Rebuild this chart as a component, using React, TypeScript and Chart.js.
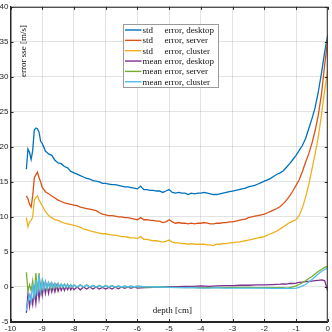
import React, { useEffect, useRef } from "react";
import { Chart, registerables } from "chart.js";

Chart.register(...registerables);

const stdDepth = [
  -9.5, -9.45, -9.4, -9.35, -9.3, -9.25, -9.2, -9.15, -9.1, -9.05, -9.0,
  -8.9, -8.8, -8.7, -8.6, -8.5, -8.4, -8.3, -8.2, -8.1, -8.0,
  -7.9, -7.8, -7.7, -7.6, -7.5, -7.4, -7.3, -7.2, -7.1, -7.0,
  -6.9, -6.8, -6.7, -6.6, -6.5, -6.4, -6.3, -6.2, -6.1, -6.0,
  -5.9, -5.8, -5.7, -5.6, -5.5, -5.4, -5.3, -5.2, -5.1, -5.0,
  -4.9, -4.8, -4.7, -4.6, -4.5, -4.4, -4.3, -4.2, -4.1, -4.0,
  -3.9, -3.8, -3.7, -3.6, -3.5, -3.4, -3.3, -3.2, -3.1, -3.0,
  -2.9, -2.8, -2.7, -2.6, -2.5, -2.4, -2.3, -2.2, -2.1, -2.0,
  -1.9, -1.8, -1.7, -1.6, -1.5, -1.4, -1.3, -1.2, -1.1, -1.0,
  -0.9, -0.8, -0.7, -0.6, -0.5, -0.4, -0.3, -0.2, -0.1, 0,
];

const stdDesktop = [
  16.8, 19.7, 19.2, 18.2, 19.5, 22.4, 22.7, 22.6, 22.1, 20.8, 20.5,
  19.4, 19.0, 18.8, 18.1, 17.7, 17.6, 17.2, 17.0, 16.5, 16.3,
  16.1, 15.9, 15.7, 15.5, 15.4, 15.2, 15.1, 15.0, 14.8, 14.8,
  14.7, 14.6, 14.6, 14.5, 14.4, 14.3, 14.3, 14.2, 14.1, 14.0,
  14.4, 13.9, 13.9, 13.8, 13.8, 13.7, 13.7, 13.5, 13.7, 13.9,
  13.5, 13.4, 13.5, 13.4, 13.4, 13.2, 13.4, 13.3, 13.4, 13.4,
  13.5, 13.4, 13.3, 13.2, 13.2, 13.3, 13.4, 13.5, 13.6, 13.7,
  13.8, 13.9, 14.0, 14.1, 14.3, 14.4, 14.5, 14.7, 14.9, 15.1,
  15.3, 15.5, 15.8, 16.1, 16.3, 16.6, 17.1, 17.6, 18.2, 18.8,
  19.5, 20.2, 21.2, 22.6, 24.0, 25.6, 27.8, 30.5, 33.5, 36.0,
];

const stdServer = [
  13.0, 12.6, 11.8, 11.4, 13.0, 15.6, 16.0, 16.4, 15.6, 15.0, 14.2,
  13.6, 13.3, 13.0, 12.7, 12.4, 12.2, 12.0, 11.9, 11.8, 11.7,
  11.6, 11.4, 11.3, 11.2, 11.1, 11.0, 10.9, 10.6, 10.4, 10.3,
  10.2, 10.2, 10.1, 10.0, 10.0, 9.9, 9.9, 9.8, 9.7, 9.6,
  9.9, 9.6, 9.6, 9.5, 9.5, 9.4, 9.4, 9.2, 9.3, 9.6,
  9.3, 9.1, 9.2, 9.1, 9.1, 9.0, 9.1, 9.0, 9.1, 9.1,
  9.2, 9.1, 9.0, 9.0, 9.1, 9.1, 9.2, 9.2, 9.3, 9.3,
  9.4, 9.5, 9.6, 9.7, 9.9, 10.0, 10.1, 10.2, 10.3, 10.4,
  10.6, 10.8, 11.0, 11.2, 11.5, 11.9, 12.4, 13.0, 13.7, 14.5,
  15.3, 16.5, 17.8, 19.0, 20.5, 22.3, 24.5, 27.5, 31.6, 35.4,
];

const stdCluster = [
  9.9, 8.6, 9.3, 9.5, 10.0, 12.4, 12.8, 13.0, 12.4, 12.0, 11.6,
  10.8, 10.2, 9.9, 9.6, 9.5, 9.3, 9.1, 9.0, 8.9, 8.8,
  8.7, 8.5, 8.3, 8.2, 8.0, 7.9, 7.8, 7.7, 7.6, 7.6,
  7.5, 7.4, 7.4, 7.3, 7.2, 7.2, 7.1, 7.0, 7.0, 6.9,
  7.2, 6.8, 6.8, 6.7, 6.6, 6.6, 6.5, 6.4, 6.5, 6.7,
  6.4, 6.3, 6.3, 6.2, 6.2, 6.1, 6.2, 6.1, 6.1, 6.1,
  6.1, 6.0, 6.0, 5.9, 6.1, 6.1, 6.2, 6.2, 6.3, 6.3,
  6.4, 6.4, 6.5, 6.6, 6.7, 6.8, 6.9, 7.0, 7.1, 7.2,
  7.4, 7.6, 7.8, 8.0, 8.3, 8.6, 8.9, 9.2, 9.4, 9.6,
  10.2, 11.3, 12.8, 14.6, 16.8, 19.0, 21.4, 24.5, 28.0, 31.0,
];

const meanDepth = [
  -9.5, -9.45, -9.4, -9.35, -9.3, -9.25, -9.2, -9.15, -9.1, -9.05,
  -9.0, -8.95, -8.9, -8.85, -8.8, -8.75, -8.7, -8.65, -8.6, -8.55,
  -8.5, -8.45, -8.4, -8.35, -8.3, -8.25, -8.2, -8.15, -8.1, -8.05, -8.0,
  -7.9, -7.8, -7.7, -7.6, -7.5, -7.4, -7.3, -7.2, -7.1, -7.0,
  -6.9, -6.8, -6.7, -6.6, -6.5, -6.4, -6.3, -6.2, -6.1, -6.0,
  -5.75, -5.5, -5.25, -5.0, -4.75, -4.5, -4.25, -4.0, -3.75, -3.5,
  -3.25, -3.0, -2.75, -2.5, -2.25, -2.0, -1.75, -1.5,
  -1.4, -1.3, -1.2, -1.1, -1.0, -0.9, -0.8, -0.7, -0.6, -0.5,
  -0.4, -0.3, -0.2, -0.1, 0,
];

const meanDesktop = [
  -3.7, -1.0, -2.8, -1.2, -2.5, -0.4, -2.3, 0.3, -1.7, 0.2,
  -1.2, 0.4, -0.9, 0.3, -0.9, 0.3, -0.7, 0.2, -0.7, 0.2,
  -0.6, 0.1, -0.5, 0.1, -0.5, 0.1, -0.4, 0.1, -0.4, 0.0, -0.4,
  0.0, -0.4, 0.0, -0.3, 0.0, -0.3, 0.0, -0.3, -0.05, -0.3,
  -0.05, -0.3, 0.0, -0.25, 0.0, -0.2, 0.0, -0.2, 0.0, -0.15,
  -0.1, -0.05, 0.0, 0.05, 0.05, 0.1, 0.1, 0.15, 0.1, 0.15,
  0.2, 0.2, 0.25, 0.25, 0.3, 0.3, 0.35, 0.4,
  0.45, 0.4, 0.5, 0.5, 0.55, 0.65, 0.7, 0.75, 0.8, 0.85,
  0.9, 0.95, 1.0, 0.9, -0.6,
];

const meanServer = [
  2.1, -0.6, 0.3, -0.5, 0.9, -1.4, 2.0, -0.8, 2.0, -0.7,
  0.9, -0.3, 0.7, -0.3, 0.6, -0.2, 0.6, -0.2, 0.5, -0.1,
  0.5, -0.1, 0.4, 0.0, 0.4, 0.0, 0.4, 0.0, 0.3, 0.0, 0.3,
  0.0, 0.3, 0.0, 0.3, 0.0, 0.2, 0.0, 0.2, 0.0, 0.2,
  0.0, 0.2, 0.0, 0.1, 0.0, 0.1, 0.0, 0.1, 0.0, 0.1,
  0.0, 0.05, 0.0, -0.05, -0.05, -0.1, -0.05, -0.1, -0.1, -0.05,
  -0.1, -0.05, -0.05, -0.05, -0.1, -0.1, -0.1, -0.1,
  -0.1, -0.15, -0.1, 0.0, 0.15, 0.35, 0.6, 0.9, 1.2, 1.5,
  1.85, 2.2, 2.5, 2.8, 2.95,
];

const meanCluster = [
  -3.4, -2.0, -1.1, -2.1, 0.4, -1.8, 1.0, -1.2, 1.7, -0.6,
  0.9, -0.3, 0.8, -0.2, 0.6, -0.1, 0.6, -0.1, 0.5, 0.0,
  0.5, 0.0, 0.4, 0.0, 0.4, 0.0, 0.3, 0.0, 0.3, 0.0, 0.3,
  0.0, 0.3, 0.0, 0.25, 0.0, 0.2, 0.0, 0.2, 0.0, 0.2,
  0.0, 0.15, 0.0, 0.15, 0.0, 0.1, 0.0, 0.1, 0.0, 0.1,
  0.05, 0.0, 0.0, -0.05, -0.1, -0.1, -0.1, -0.15, -0.15, -0.1,
  -0.15, -0.15, -0.15, -0.15, -0.15, -0.15, -0.2, -0.2,
  -0.2, -0.2, -0.2, -0.2, -0.15, -0.05, 0.15, 0.35, 0.7, 1.05,
  1.45, 1.85, 2.2, 2.5, 2.7,
];

const seriesLabels = [
  "std error, desktop",
  "std error, server",
  "std error, cluster",
  "mean error, desktop",
  "mean error, server",
  "mean error, cluster",
];
const seriesColors = ["#0072BD", "#D95319", "#EDB120", "#7E2F8E", "#77AC30", "#4DBEEE"];

const xTitle = "depth [cm]";
const yTitle = "error sse [m/s]";

const AXIS_COLOR = "#262626";
const SERIF = "'Liberation Serif', 'DejaVu Serif', serif";
const SANS = "'Liberation Sans', 'DejaVu Sans', sans-serif";

const decorPlugin = {
  id: "matlabDecor",
  afterDraw(chart: any) {
    const { ctx, chartArea } = chart;
    const { left, right, top, bottom } = chartArea;
    const xs = chart.scales.x;
    const ys = chart.scales.y;
    ctx.save();
    // box
    ctx.strokeStyle = AXIS_COLOR;
    ctx.lineWidth = 1;
    ctx.strokeRect(left + 0.5, top + 0.5, right - left - 1, bottom - top - 1);
    // inward tick marks
    const tl = 3;
    ctx.beginPath();
    xs.ticks.forEach((t: any) => {
      const px = Math.round(xs.getPixelForValue(t.value)) + 0.5;
      ctx.moveTo(px, bottom);
      ctx.lineTo(px, bottom - tl);
      ctx.moveTo(px, top);
      ctx.lineTo(px, top + tl);
    });
    ys.ticks.forEach((t: any) => {
      const py = Math.round(ys.getPixelForValue(t.value)) + 0.5;
      ctx.moveTo(left, py);
      ctx.lineTo(left + tl, py);
      ctx.moveTo(right, py);
      ctx.lineTo(right - tl, py);
    });
    ctx.stroke();

    // axis titles (inside the axes, as in the reference)
    ctx.fillStyle = "#111";
    ctx.font = `9px ${SERIF}`;
    ctx.textAlign = "center";
    ctx.textBaseline = "middle";
    ctx.fillText(xTitle, xs.getPixelForValue(-4.9), ys.getPixelForValue(-3.4));
    ctx.save();
    ctx.translate(left + 13, ys.getPixelForValue(33.7));
    ctx.rotate(-Math.PI / 2);
    ctx.fillText(yTitle, 0, 0);
    ctx.restore();

    // legend
    const bx = 123.5, by = 24.5, bw = 95, bh = 63;
    ctx.fillStyle = "#ffffff";
    ctx.fillRect(bx, by, bw, bh);
    ctx.strokeStyle = "#9a9a9a";
    ctx.lineWidth = 1;
    ctx.strokeRect(bx, by, bw, bh);
    ctx.textAlign = "left";
    ctx.textBaseline = "middle";
    ctx.font = `9px ${SERIF}`;
    chart.data.datasets.forEach((ds: any, i: number) => {
      const yy = 30 + i * 10.35;
      ctx.strokeStyle = ds.borderColor;
      ctx.lineWidth = 1.4;
      ctx.beginPath();
      ctx.moveTo(125, yy);
      ctx.lineTo(141.5, yy);
      ctx.stroke();
      const label: string = ds.label;
      const sp = label.indexOf(" ");
      ctx.fillStyle = "#111";
      ctx.fillText(label.slice(0, sp), 142.5, yy + 0.5);
      ctx.fillText(label.slice(sp + 1), 164.5, yy + 0.5);
    });
    ctx.restore();
  },
};

export default function App() {
  const canvasRef = useRef<HTMLCanvasElement | null>(null);

  useEffect(() => {
    document.body.style.margin = "0";
    const canvas = canvasRef.current;
    if (!canvas) return;

    const makePts = (xsArr: number[], ysArr: number[]) =>
      xsArr.map((x, i) => ({ x, y: ysArr[i] }));

    const values = [stdDesktop, stdServer, stdCluster, meanDesktop, meanServer, meanCluster];
    const datasets = values.map((v, i) => ({
      label: seriesLabels[i],
      data: makePts(i < 3 ? stdDepth : meanDepth, v),
      borderColor: seriesColors[i],
      backgroundColor: seriesColors[i],
      borderWidth: 1.3,
      pointRadius: 0,
      tension: 0,
      fill: false,
      order: 6 - i,
    }));

    const chart = new Chart(canvas, {
      type: "line",
      data: { datasets },
      options: {
        animation: false,
        responsive: false,
        devicePixelRatio: 1,
        layout: { padding: { left: 0, right: 2, top: 2.5, bottom: 0 } },
        plugins: {
          legend: { display: false },
          tooltip: { enabled: false },
          title: { display: false },
        },
        scales: {
          x: {
            type: "linear",
            min: -10,
            max: 0,
            afterFit: (s: any) => {
              s.height = 10;
            },
            ticks: {
              stepSize: 1,
              padding: 2,
              color: AXIS_COLOR,
              font: { family: SANS, size: 8 },
              maxRotation: 0,
              autoSkip: false,
            },
            grid: {
              color: "rgba(38,38,38,0.13)",
              drawTicks: false,
              tickLength: 0,
            },
            border: { display: true, color: AXIS_COLOR },
          },
          y: {
            type: "linear",
            min: -5,
            max: 40,
            afterFit: (s: any) => {
              s.width = 10.5;
            },
            ticks: {
              stepSize: 5,
              padding: 2,
              color: AXIS_COLOR,
              font: { family: SANS, size: 8 },
              autoSkip: false,
            },
            grid: {
              color: "rgba(38,38,38,0.13)",
              drawTicks: false,
              tickLength: 0,
            },
            border: { display: true, color: AXIS_COLOR },
          },
        },
      },
      plugins: [decorPlugin],
    });

    return () => chart.destroy();
  }, []);

  return (
    <div style={{ width: 332, height: 332, background: "#ffffff" }}>
      <canvas ref={canvasRef} width={332} height={332} style={{ display: "block", width: 332, height: 332 }} />
    </div>
  );
}
